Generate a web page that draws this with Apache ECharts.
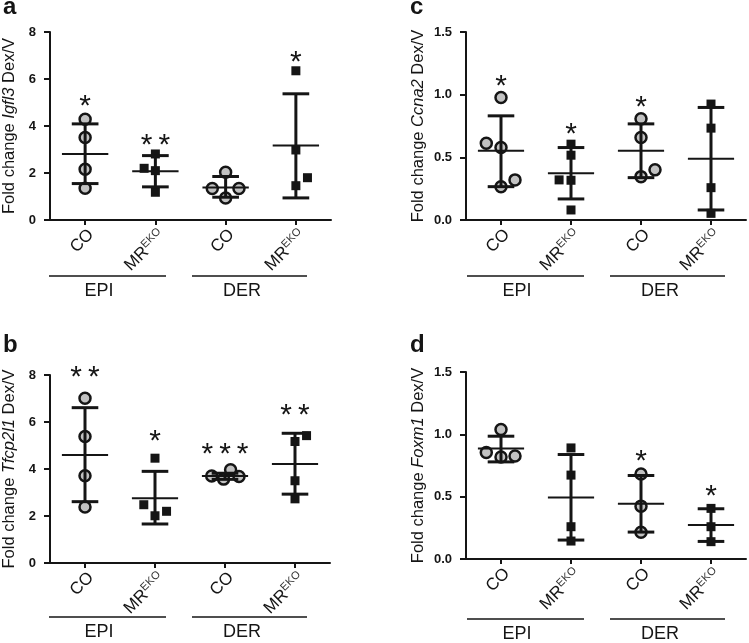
<!DOCTYPE html>
<html><head><meta charset="utf-8">
<script src="https://cdn.jsdelivr.net/npm/echarts@6/dist/echarts.min.js"></script>
<style>html,body{margin:0;padding:0;background:#fff}#c{width:749px;height:643px}</style>
</head><body><div id="c"></div>
<script>
// ---------- DATA ----------
const categories = ['CO', 'MR', 'CO', 'MR'];
const groupNames = ['EPI', 'DER'];
const geneNames = ['Igfl3', 'Tfcp2l1', 'Ccna2', 'Foxm1'];
const panelLetters = ['a', 'b', 'c', 'd'];

// Panel a (Igfl3)
const aPoints = [[4.29, 3.51, 2.16, 1.35], [2.81, 2.20, 2.10, 1.18], [2.03, 1.34, 1.34, 0.94], [6.35, 2.98, 1.80, 1.46]];
const aJitter = [[0, 0, 0, 0], [0, -0.16, 0, 0], [0, -0.19, 0.19, 0], [0, 0, 0.165, 0]];
const aMean = [2.81, 2.07, 1.38, 3.17];
const aUpper = [4.09, 2.74, 1.85, 5.37];
const aLower = [1.55, 1.41, 0.97, 0.94];
const aStars = ['*', '**', '', '*'];
const aStarY = [5.15, 3.48, 0, 7.03];
const aYMax = 8, aYStep = 2;

// Panel b (Tfcp2l1)
const bPoints = [[7.01, 5.38, 3.71, 2.38], [4.46, 2.48, 2.20, 2.01], [3.70, 3.57, 3.97, 3.68], [5.42, 5.17, 3.50, 2.73]];
const bJitter = [[0, 0, 0, 0], [0, -0.16, 0.165, 0], [-0.19, -0.02, 0.08, 0.2], [0.165, 0, 0, 0]];
const bMean = [4.60, 2.76, 3.70, 4.21];
const bUpper = [6.61, 3.90, 3.82, 5.52];
const bLower = [2.61, 1.66, 3.56, 2.93];
const bStars = ['**', '*', '***', '**'];
const bStarY = [8.24, 5.52, 4.93, 6.59];
const bYMax = 8, bYStep = 2;

// Panel c (Ccna2)
const cPoints = [[0.978, 0.613, 0.578, 0.320, 0.266], [0.605, 0.517, 0.320, 0.317, 0.08], [0.807, 0.658, 0.40, 0.346], [0.925, 0.733, 0.258, 0.053]];
const cJitter = [[0, -0.21, 0, 0.2, 0], [0, 0, -0.17, 0, 0], [0, 0, 0.2, 0], [0, 0, 0, 0]];
const cMean = [0.552, 0.373, 0.552, 0.488];
const cUpper = [0.831, 0.578, 0.767, 0.898];
const cLower = [0.266, 0.168, 0.338, 0.08];
const cStars = ['*', '*', '*', ''];
const cStarY = [1.13, 0.746, 0.96, 0];
const cYMax = 1.5, cYStep = 0.5;

// Panel d (Foxm1)
const dPoints = [[1.038, 0.854, 0.827, 0.819], [0.891, 0.673, 0.259, 0.144], [0.681, 0.424, 0.214], [0.406, 0.259, 0.139]];
const dJitter = [[0, -0.21, 0.2, 0], [0, 0, 0, 0], [0, 0, 0], [0, 0, 0]];
const dMean = [0.886, 0.494, 0.443, 0.272];
const dUpper = [0.985, 0.838, 0.67, 0.403];
const dLower = [0.779, 0.152, 0.216, 0.141];
const dStars = ['', '', '*', '*'];
const dStarY = [0, 0, 0.846, 0.566];
const dYMax = 1.5, dYStep = 0.5;

// ---------- LAYOUT / STYLE ----------
const INK = '#151515';
const FONT = '"Liberation Sans", Arial, sans-serif';
const layouts = [
  { left: 48, top: 32, width: 283, height: 188, nameGap: 32, letterX: 3, letterY: -5, lineY: 276, dec: 0 },
  { left: 48, top: 375, width: 282, height: 188, nameGap: 32, letterX: 3, letterY: 333, lineY: 617, dec: 0 },
  { left: 466, top: 32, width: 280, height: 188, nameGap: 39, letterX: 410, letterY: -5, lineY: 276, dec: 1 },
  { left: 466, top: 372, width: 280, height: 187, nameGap: 39, letterX: 410, letterY: 333, lineY: 619, dec: 1 }
];
const panels = [
  { points: aPoints, jitter: aJitter, mean: aMean, upper: aUpper, lower: aLower, stars: aStars, starY: aStarY, yMax: aYMax, yStep: aYStep },
  { points: bPoints, jitter: bJitter, mean: bMean, upper: bUpper, lower: bLower, stars: bStars, starY: bStarY, yMax: bYMax, yStep: bYStep },
  { points: cPoints, jitter: cJitter, mean: cMean, upper: cUpper, lower: cLower, stars: cStars, starY: cStarY, yMax: cYMax, yStep: cYStep },
  { points: dPoints, jitter: dJitter, mean: dMean, upper: dUpper, lower: dLower, stars: dStars, starY: dStarY, yMax: dYMax, yStep: dYStep }
];

const grid = [], xAxis = [], yAxis = [], series = [], title = [], graphic = [];

function errRender(params, api) {
  const x = api.value(0), m = api.value(1), lo = api.value(2), hi = api.value(3);
  const unit = api.size([1, 0])[0];
  const pM = api.coord([x, m]), pLo = api.coord([x, lo]), pHi = api.coord([x, hi]);
  const cap = unit * 0.19, half = unit * 0.33;
  const st = (w) => ({ stroke: INK, lineWidth: w, fill: null });
  return {
    type: 'group',
    children: [
      { type: 'line', shape: { x1: pLo[0], y1: pLo[1], x2: pHi[0], y2: pHi[1] }, style: st(3) },
      { type: 'line', shape: { x1: pHi[0] - cap, y1: pHi[1], x2: pHi[0] + cap, y2: pHi[1] }, style: st(3) },
      { type: 'line', shape: { x1: pLo[0] - cap, y1: pLo[1], x2: pLo[0] + cap, y2: pLo[1] }, style: st(3) },
      { type: 'line', shape: { x1: pM[0] - half, y1: pM[1], x2: pM[0] + half, y2: pM[1] }, style: st(2) }
    ]
  };
}

function starRenderFor(labels) {
  return function (params, api) {
    const p = api.coord([api.value(0), api.value(1)]);
    return {
      type: 'text', x: p[0], y: p[1] + 8,
      style: { text: labels[params.dataIndex].split('').join('\u2009'), fontSize: 30, fill: INK,
        fontFamily: FONT, textAlign: 'center', textVerticalAlign: 'middle' }
    };
  };
}

panels.forEach((p, i) => {
  const L = layouts[i];
  grid.push({ left: L.left, top: L.top, width: L.width, height: L.height });
  xAxis.push({
    gridIndex: i, type: 'category', data: categories, boundaryGap: true,
    axisLine: { onZero: false, lineStyle: { color: INK, width: 2 } },
    axisTick: { show: true, alignWithLabel: true, length: 5, lineStyle: { color: INK, width: 2 } },
    axisLabel: {
      rotate: 45, margin: 6, interval: 0, verticalAlign: 'top',
      formatter: (v, idx) => categories[idx] === 'MR' ? '{m|MR}{s|EKO}' : '{m|' + v + '}',
      rich: {
        m: { fontSize: 17, color: INK, fontFamily: FONT },
        s: { fontSize: 11, color: '#333', fontFamily: FONT, verticalAlign: 'top', padding: [0, 0, 9, 0] }
      }
    },
    splitLine: { show: false }
  });
  xAxis.push({ gridIndex: i, type: 'value', min: -0.5, max: 3.5, show: false });
  yAxis.push({
    gridIndex: i, type: 'value', min: 0, max: p.yMax, interval: p.yStep,
    axisLine: { show: true, onZero: false, lineStyle: { color: INK, width: 2 } },
    axisTick: { show: true, length: 6, lineStyle: { color: INK, width: 2 } },
    axisLabel: { fontSize: 13, fontWeight: 'bold', color: INK, fontFamily: FONT, margin: 14,
      formatter: v => v.toFixed(L.dec) },
    splitLine: { show: false },
    name: 'Fold change {i|' + geneNames[i] + '} Dex/V',
    nameLocation: 'middle', nameGap: L.nameGap,
    nameTextStyle: { fontSize: 16.5, color: INK, fontFamily: FONT,
      rich: { i: { fontSize: 16.5, fontStyle: 'italic', color: INK, fontFamily: FONT } } }
  });
  const circ = [], sq = [], err = [], st = [], stLabels = [];
  p.points.forEach((vals, g) => {
    vals.forEach((v, k) => {
      const pt = [g + p.jitter[g][k], v];
      (categories[g] === 'CO' ? circ : sq).push(pt);
    });
    err.push([g, p.mean[g], p.lower[g], p.upper[g]]);
    if (p.stars[g]) { st.push([g, p.starY[g]]); stLabels.push(p.stars[g]); }
  });
  series.push({
    type: 'scatter', xAxisIndex: 2 * i + 1, yAxisIndex: i, data: circ, symbol: 'circle', symbolSize: 11,
    itemStyle: { color: '#c2c2c2', borderColor: INK, borderWidth: 2.5, opacity: 1 }, z: 2, silent: true
  });
  series.push({
    type: 'scatter', xAxisIndex: 2 * i + 1, yAxisIndex: i, data: sq, symbol: 'rect', symbolSize: 9,
    itemStyle: { color: INK, opacity: 1 }, z: 2, silent: true
  });
  series.push({
    type: 'custom', xAxisIndex: 2 * i + 1, yAxisIndex: i, data: err, renderItem: errRender, z: 3, silent: true
  });
  series.push({
    type: 'custom', xAxisIndex: 2 * i + 1, yAxisIndex: i, data: st, renderItem: starRenderFor(stLabels), z: 4, silent: true
  });
  title.push({ text: panelLetters[i], left: L.letterX, top: L.letterY, padding: 0,
    textStyle: { fontSize: 24, fontWeight: 'bold', color: INK, fontFamily: FONT } });
  const x0 = L.left;
  const segs = [[x0 + 1, x0 + 118], [x0 + 144, x0 + 259]];
  segs.forEach((s, g) => {
    graphic.push({ type: 'line', shape: { x1: s[0], y1: L.lineY, x2: s[1], y2: L.lineY }, style: { stroke: INK, lineWidth: 1.5 } });
    graphic.push({ type: 'text', x: s[0] + 50, y: L.lineY + 15,
      style: { text: groupNames[g], fontSize: 18, fill: INK, fontFamily: FONT, textAlign: 'center', textVerticalAlign: 'middle' } });
  });
});

const chart = echarts.init(document.getElementById('c'), null, { renderer: 'canvas' });
chart.setOption({ animation: false, backgroundColor: '#fff', title, grid, xAxis, yAxis, series, graphic });
</script></body></html>
